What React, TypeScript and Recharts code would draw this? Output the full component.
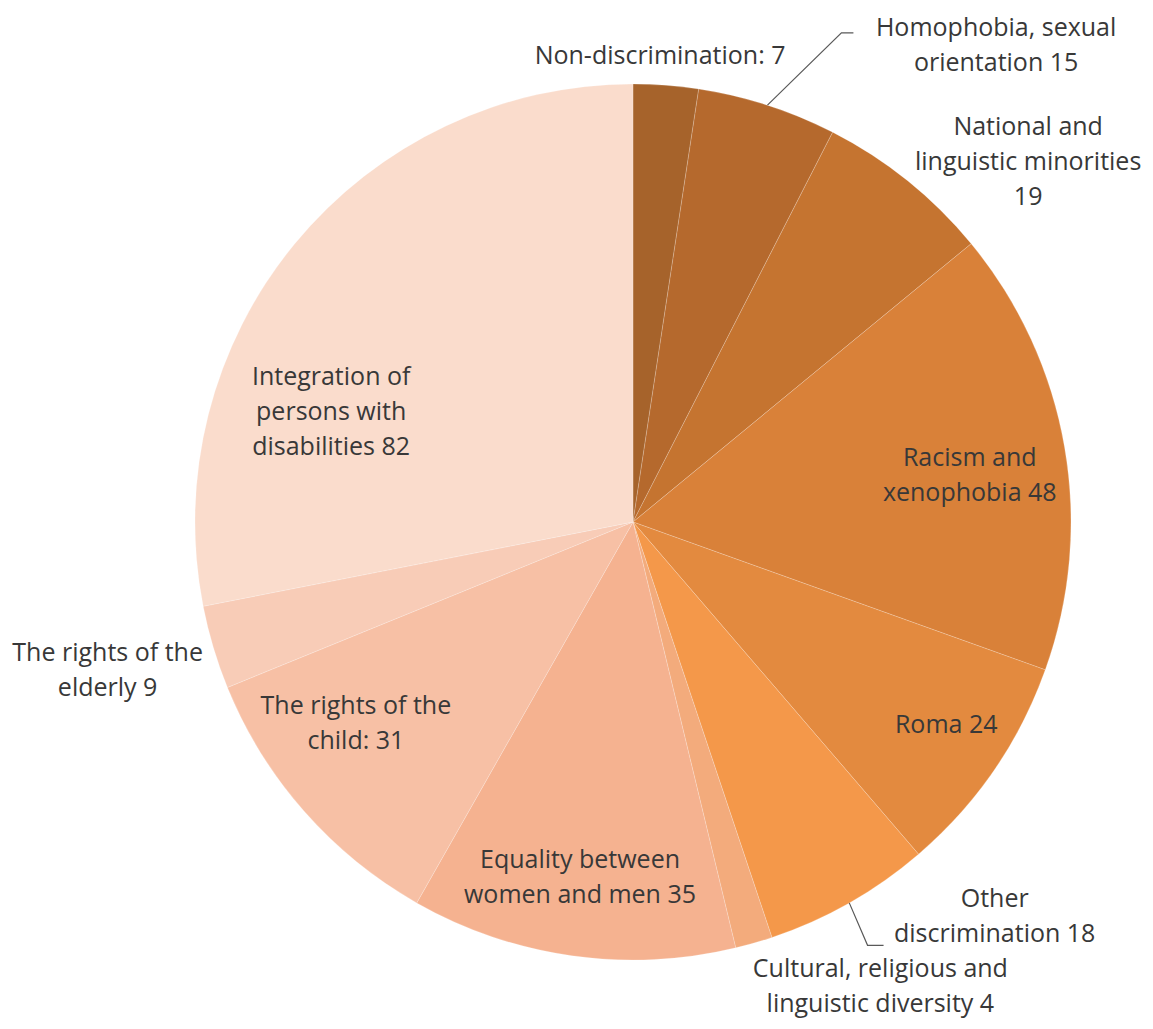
import { PieChart, Pie, Cell } from 'recharts';

// Complaint topics and counts, clockwise from 12 o'clock
const categories = [
    'Non-discrimination',
    'Homophobia, sexual orientation',
    'National and linguistic minorities',
    'Racism and xenophobia',
    'Roma',
    'Other discrimination',
    'Cultural, religious and linguistic diversity',
    'Equality between women and men',
    'The rights of the child',
    'The rights of the elderly',
    'Integration of persons with disabilities',
];
const values = [7, 15, 19, 48, 24, 18, 4, 35, 31, 9, 82];

// Label text as it is wrapped in the picture ({v} = value)
const labelLines = [
    ['Non-discrimination: {v}'],
    ['Homophobia, sexual', 'orientation {v}'],
    ['National and', 'linguistic minorities', '{v}'],
    ['Racism and', 'xenophobia {v}'],
    ['Roma {v}'],
    ['Other', 'discrimination {v}'],
    ['Cultural, religious and', 'linguistic diversity {v}'],
    ['Equality between', 'women and men {v}'],
    ['The rights of the', 'child: {v}'],
    ['The rights of the', 'elderly {v}'],
    ['Integration of', 'persons with', 'disabilities {v}'],
];

const colors = [
    '#A6632B', '#B5692D', '#C57430', '#D98139', '#E38A3F', '#F4984A',
    '#F3AB7C', '#F5B290', '#F7C0A5', '#F8CCB7', '#FADCCC',
];

// label placement: radius factor and angular shift (deg, clockwise) from slice middle
const labelPlace = [
    { r: 1.07, shift: -1 },
    { r: 1.372, shift: 19.3, leader: { r: 1.214, shift: 5.2, run: 12 } },
    { r: 1.223, shift: 8.7 },
    { r: 0.777, shift: 1.6 },
    { r: 0.85, shift: -1.8 },
    { r: 1.218, shift: -13.1, leader: { r: 1.105, shift: 0.6, run: 16 } },
    { r: 1.198, shift: -12.1 },
    { r: 0.817, shift: 0.5 },
    { r: 0.78, shift: 5.5 },
    { r: 1.245, shift: 1.1 },
    { r: 0.735, shift: -19.1 },
];

const data = categories.map((name, i) => ({ name, value: values[i] }));

const RAD = Math.PI / 180;
const LINE_H = 35;

const polar = (cx: number, cy: number, r: number, angle: number) => ({
    x: cx + r * Math.cos(angle * RAD),
    y: cy - r * Math.sin(angle * RAD),
});

const renderLabel = (props: any) => {
    const { cx, cy, midAngle, outerRadius, index } = props;
    const place = labelPlace[index];
    const pos = polar(cx, cy, outerRadius * place.r, midAngle - place.shift);
    const lines = labelLines[index].map((l) => l.replace('{v}', String(values[index])));
    const top = pos.y - ((lines.length - 1) * LINE_H) / 2;
    let leader = null;
    if (place.leader) {
        const a = polar(cx, cy, outerRadius, midAngle);
        const b = polar(cx, cy, outerRadius * place.leader.r, midAngle - place.leader.shift);
        leader = (
            <polyline
                points={`${a.x},${a.y} ${b.x},${b.y} ${b.x + place.leader.run},${b.y}`}
                fill="none"
                stroke="#595959"
                strokeWidth={1.2}
            />
        );
    }
    return (
        <g key={`lbl-${index}`}>
            {leader}
            <text
                x={pos.x}
                y={top}
                textAnchor="middle"
                dominantBaseline="central"
                fill="#383838"
                fontFamily="'Open Sans', Lato, sans-serif"
                fontSize={25}
            >
                {lines.map((l, i) => (
                    <tspan key={i} x={pos.x} dy={i === 0 ? 0 : LINE_H}>{l}</tspan>
                ))}
            </text>
        </g>
    );
};

export default function App() {
    return (
        <div style={{ position: 'absolute', left: 0, top: 0, background: '#ffffff' }}>
            <PieChart width={1153} height={1029} margin={{ top: 0, right: 0, bottom: 0, left: 0 }}>
                <Pie
                    data={data}
                    dataKey="value"
                    nameKey="name"
                    cx={633}
                    cy={522}
                    outerRadius={438}
                    startAngle={90}
                    endAngle={-270}
                    stroke="#ffffff"
                    strokeOpacity={0.2}
                    strokeWidth={1}
                    label={renderLabel}
                    labelLine={false}
                    isAnimationActive={false}
                >
                    {data.map((d, i) => (
                        <Cell key={d.name} fill={colors[i]} />
                    ))}
                </Pie>
            </PieChart>
        </div>
    );
}
